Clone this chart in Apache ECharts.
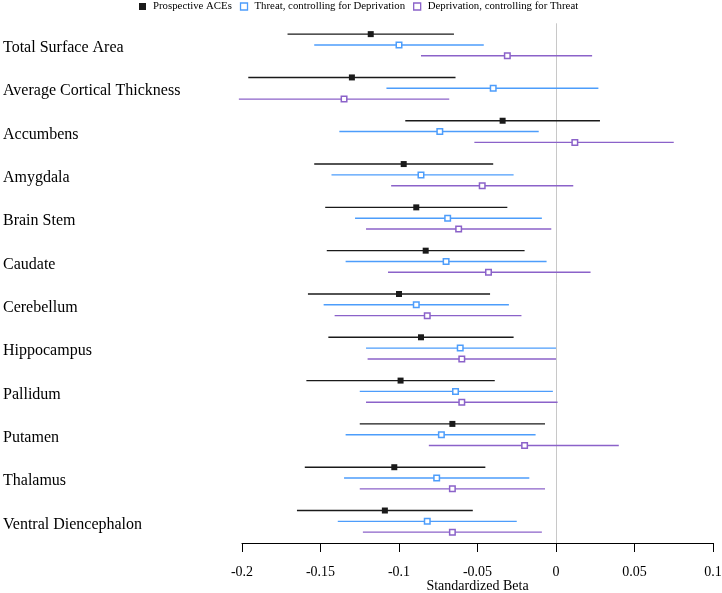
<!DOCTYPE html>
<html>
<head>
<meta charset="utf-8">
<script src="https://cdn.jsdelivr.net/npm/echarts@6/dist/echarts.min.js"></script>
<style>
  html, body { margin: 0; padding: 0; background: #fff; }
  #chart { width: 722px; height: 593px; }
</style>
</head>
<body>
<div id="chart"></div>
<script>
// regions, top to bottom
const regions = [
  'Total Surface Area', 'Average Cortical Thickness', 'Accumbens', 'Amygdala',
  'Brain Stem', 'Caudate', 'Cerebellum', 'Hippocampus', 'Pallidum',
  'Putamen', 'Thalamus', 'Ventral Diencephalon'
];
const seriesNames = [
  'Prospective ACEs',
  'Threat, controlling for Deprivation',
  'Deprivation, controlling for Threat'
];
const xTicks = [-0.2, 0.1, 0.05]; // min, max, interval

// [estimate, lower, upper] per region
const aces = [
  [-0.118, -0.171, -0.065], [-0.130, -0.196, -0.064], [-0.034, -0.096, 0.028],
  [-0.097, -0.154, -0.040], [-0.089, -0.147, -0.031], [-0.083, -0.146, -0.020],
  [-0.100, -0.158, -0.042], [-0.086, -0.145, -0.027], [-0.099, -0.159, -0.039],
  [-0.066, -0.125, -0.007], [-0.103, -0.160, -0.045], [-0.109, -0.165, -0.053]
];
const threat = [
  [-0.100, -0.154, -0.046], [-0.040, -0.108, 0.027], [-0.074, -0.138, -0.011],
  [-0.086, -0.143, -0.027], [-0.069, -0.128, -0.009], [-0.070, -0.134, -0.006],
  [-0.089, -0.148, -0.030], [-0.061, -0.121, 0.000], [-0.064, -0.125, -0.002],
  [-0.073, -0.134, -0.013], [-0.076, -0.135, -0.017], [-0.082, -0.139, -0.025]
];
const deprivation = [
  [-0.031, -0.086, 0.023], [-0.135, -0.202, -0.068], [0.012, -0.052, 0.075],
  [-0.047, -0.105, 0.011], [-0.062, -0.121, -0.003], [-0.043, -0.107, 0.022],
  [-0.082, -0.141, -0.022], [-0.060, -0.120, 0.000], [-0.060, -0.121, 0.001],
  [-0.020, -0.081, 0.040], [-0.066, -0.125, -0.007], [-0.066, -0.123, -0.009]
];

const colors = ['#1a1a1a', '#4d9dfb', '#8b62c9'];
const serif = "'Liberation Serif', 'Times New Roman', serif";

function makeSeries(name, rows, idx) {
  const shift = [-0.25, 0, 0.25][idx];
  const filled = idx === 0;
  return {
    name: name,
    type: 'custom',
    itemStyle: { color: colors[idx] },
    encode: { x: [0, 1, 2], y: 3 },
    data: rows.map((r, i) => [r[0], r[1], r[2], i]),
    renderItem: function (params, api) {
      const yi = api.value(3);
      const p = api.coord([api.value(0), yi]);
      const a = api.coord([api.value(1), yi]);
      const b = api.coord([api.value(2), yi]);
      const band = params.coordSys.height / regions.length;
      const y = p[1] + band * shift;
      const s = filled ? 6 : 5.5;
      return {
        type: 'group',
        children: [
          {
            type: 'line',
            shape: { x1: a[0], y1: y, x2: b[0], y2: y },
            style: { stroke: colors[idx], lineWidth: 1.4 }
          },
          {
            type: 'rect',
            shape: { x: p[0] - s / 2, y: y - s / 2, width: s, height: s },
            style: filled
              ? { fill: colors[idx] }
              : { fill: '#fff', stroke: colors[idx], lineWidth: 1.5 }
          }
        ]
      };
    }
  };
}

// only the tick at 0 gets a visible split line
const splitColors = [];
for (let v = xTicks[0]; v <= xTicks[1] + 1e-9; v += xTicks[2]) {
  splitColors.push(Math.abs(v) < 1e-9 ? '#c8c8c8' : 'rgba(0,0,0,0)');
}

const chart = echarts.init(document.getElementById('chart'));

chart.setOption({
  animation: false,
  textStyle: { fontFamily: serif },
  legend: {
    top: 1,
    left: 139,
    padding: 0,
    itemWidth: 7,
    itemHeight: 7,
    itemGap: 8,
    textStyle: { fontSize: 10.8, color: '#000', fontFamily: serif, padding: [0, 0, 0, 2] },
    data: [
      { name: seriesNames[0], icon: 'rect', itemStyle: { color: colors[0] } },
      { name: seriesNames[1], icon: 'rect', itemStyle: { color: '#fff', borderColor: colors[1], borderWidth: 1.3 } },
      { name: seriesNames[2], icon: 'rect', itemStyle: { color: '#fff', borderColor: colors[2], borderWidth: 1.3 } }
    ]
  },
  grid: { left: 242, right: 9, top: 23.3, height: 519.7, containLabel: false, outerBoundsMode: 'none' },
  xAxis: {
    type: 'value',
    min: xTicks[0],
    max: xTicks[1],
    interval: xTicks[2],
    name: 'Standardized Beta',
    nameLocation: 'middle',
    nameGap: 36,
    nameMoveOverlap: false,
    nameTextStyle: { fontSize: 14, color: '#000', fontFamily: serif },
    axisLine: { show: true, lineStyle: { color: '#000', width: 1 } },
    axisTick: { show: true, length: 9, lineStyle: { color: '#000', width: 1 } },
    axisLabel: { fontSize: 14, color: '#000', margin: 22, fontFamily: serif },
    splitLine: { show: true, lineStyle: { color: splitColors, width: 1 } }
  },
  yAxis: {
    type: 'category',
    inverse: true,
    data: regions,
    axisLine: { show: false },
    axisTick: { show: false },
    splitLine: { show: false },
    axisLabel: {
      align: 'left',
      verticalAlign: 'top',
      lineHeight: 6,
      margin: 239,
      fontSize: 16,
      color: '#000',
      fontFamily: serif
    }
  },
  series: [
    makeSeries(seriesNames[0], aces, 0),
    makeSeries(seriesNames[1], threat, 1),
    makeSeries(seriesNames[2], deprivation, 2)
  ]
});
</script>
</body>
</html>
